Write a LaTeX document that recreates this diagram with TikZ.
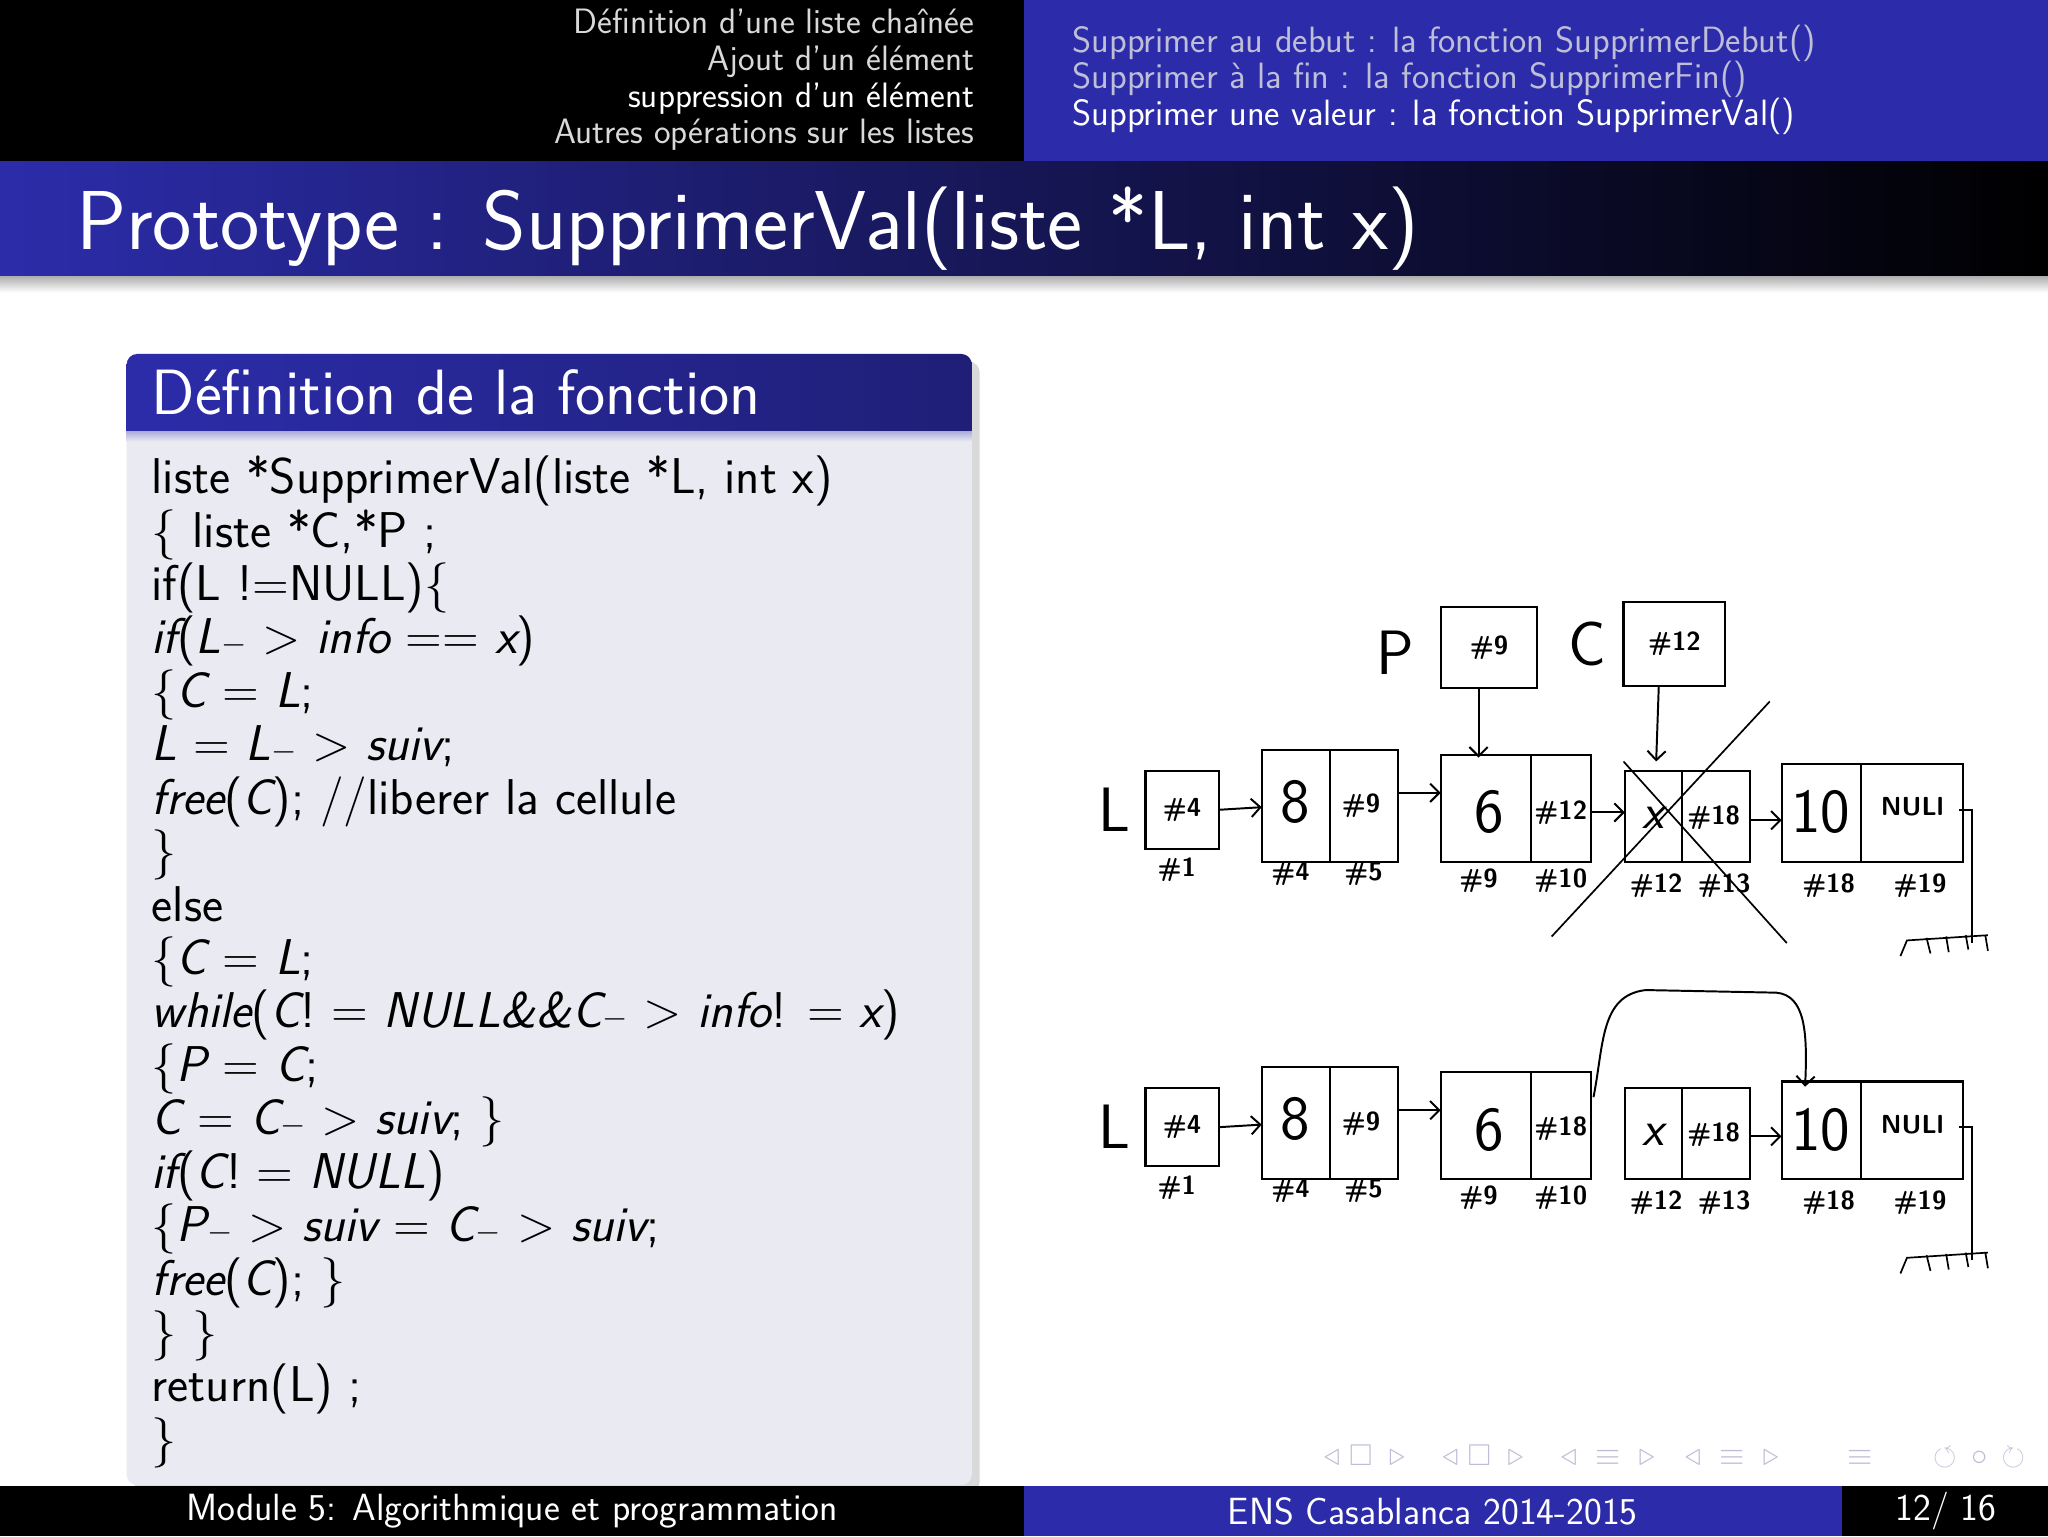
\documentclass[tikz,border=0pt]{standalone}
\usepackage{amssymb}
\usepackage{fontspec}
\usetikzlibrary{arrows.meta}
\definecolor{bblue}{RGB}{44,44,170}
\definecolor{bodyc}{RGB}{234,234,243}
\definecolor{navg}{RGB}{190,190,215}
\tikzset{
 cell/.style={draw,line width=1.6pt},
 hl/.style={font=\sffamily\bfseries\fontsize{20}{20}\selectfont},
 hd/.style={font=\sffamily\fontsize{48}{48}\selectfont},
 arr/.style={line width=1.5pt,-{Straight Barb[length=7pt]}},
 codel/.style={anchor=base west,font=\sffamily\fontsize{38.5}{38.5}\selectfont,inner sep=0},
 navt/.style={text=white!70!gray,anchor=base east,font=\sffamily\fontsize{27}{27}\selectfont,inner sep=0},
 navr/.style={anchor=base west,font=\sffamily\fontsize{28}{28}\selectfont,inner sep=0},
 foot/.style={text=white,font=\sffamily\fontsize{29}{29}\selectfont},
}
\begin{document}
\begin{tikzpicture}[x=1pt,y=-1pt]
\useasboundingbox (0,0) rectangle (1568,1176);
\fill[white] (0,0) rectangle (1568,1176);
% header
\fill[black] (0,0) rectangle (784,124);
\fill[bblue] (784,0) rectangle (1568,124);
\node[navt] (n1) at (746,26) {Définition d'une liste chaînée};
\node[navt] (n2) at (746,54) {Ajout d'un élément};
\node[navt,text=white] (n3) at (746,82) {suppression d'un élément};
\node[navt] (n4) at (746,110) {Autres opérations sur les listes};
\node[navr,text=navg] (m1) at (821,40) {Supprimer au debut : la fonction SupprimerDebut()};
\node[navr,text=navg] (m2) at (821,68) {Supprimer à la fin : la fonction SupprimerFin()};
\node[navr,text=white] (m3) at (821,96) {Supprimer une valeur : la fonction SupprimerVal()};
% title
\shade[left color=bblue,right color=black] (0,124) rectangle (1568,212);
\shade[top color=black!30,bottom color=white] (0,212) rectangle (1568,224);
\node[anchor=base west,text=white,inner sep=0,font=\sffamily\fontsize{64}{64}\selectfont] (title) at (58,191) {Prototype : SupprimerVal(liste *L, int x)};
% block
\fill[black!15,rounded corners=8pt] (103,277) rectangle (750,1143);
\fill[bodyc,rounded corners=8pt] (97,271) rectangle (744,1137);
\begin{scope}
\clip[rounded corners=8pt] (97,271) rectangle (744,400);
\shade[left color=bblue,right color=bblue!70!black] (97,271) rectangle (744,330);
\end{scope}
\shade[top color=bblue!40,bottom color=bodyc] (97,330) rectangle (744,338);
\node[anchor=base west,text=white,inner sep=0,font=\sffamily\fontsize{49}{49}\selectfont] (bh) at (116,317) {Définition de la fonction};
\def\cl#1#2{\node[codel] at (116,{378+#1*40.9}) {#2};}
\cl{0}{liste *SupprimerVal(liste *L, int x)}
\cl{1}{\{ liste *C,*P ;}
\cl{2}{if(L !=NULL)\{}
\cl{3}{\itshape if\upshape(\itshape L\upshape{}$-$ > \itshape info \upshape== \itshape x\upshape)}
\cl{4}{\{\itshape C \upshape= \itshape L\upshape;}
\cl{5}{\itshape L \upshape= \itshape L\upshape$-$ > \itshape suiv\upshape;}
\cl{6}{\itshape free\upshape(\itshape C\upshape); //liberer la cellule}
\cl{7}{\}}
\cl{8}{else}
\cl{9}{\{\itshape C \upshape= \itshape L\upshape;}
\cl{10}{\itshape while\upshape(\itshape C\upshape! = \itshape NULL\&\&C\upshape$-$ > \itshape info\upshape! = \itshape x\upshape)}
\cl{11}{\{\itshape P \upshape= \itshape C\upshape;}
\cl{12}{\itshape C \upshape= \itshape C\upshape$-$ > \itshape suiv\upshape; \}}
\cl{13}{\itshape if\upshape(\itshape C\upshape! = \itshape NULL\upshape)}
\cl{14}{\{\itshape P\upshape$-$ > \itshape suiv \upshape= \itshape C\upshape$-$ > \itshape suiv\upshape;}
\cl{15}{\itshape free\upshape(\itshape C\upshape); \}}
\cl{16}{\} \}}
\cl{17}{return(L) ;}
\cl{18}{\}}
% diagram row 1
\node[hd] (P) at (1068,500) {P};
\draw[cell] (1103,465) rectangle (1177,527) node[midway,hl] (pb) {\#9};
\node[hd] (C) at (1215,493) {C};
\draw[cell] (1243,461) rectangle (1321,525) node[midway,hl] (cb) {\#12};
\coordinate (pt) at (1132,580); \coordinate (ct) at (1268,583);
\draw[arr] (1132,527) -- (pt);
\draw[arr] (1270,525) -- (ct);
\foreach \dy/\r in {0/a,243/b}{
 \begin{scope}[yshift=-\dy]
 \node[hd] (L\r) at (853,620) {L};
 \draw[cell] (877,590) rectangle (933,650) node[midway,hl] (h\r) {\#4};
 \node[hl] at (901,666) {\#1};
 \draw[cell] (966,574) rectangle (1070,660); \draw[cell] (1018,574) -- (1018,660);
 \node[hd] (e8\r) at (992,614) {8}; \node[hl] at (1042,617) {\#9};
 \node[hl] at (988,669) {\#4}; \node[hl] at (1044,669) {\#5};
 \draw[cell] (1103,578) rectangle (1218,660); \draw[cell] (1172,578) -- (1172,660);
 \node[hd] (e6\r) at (1140,622) {6};
 \node[hl] at (1132,674) {\#9}; \node[hl] at (1195,674) {\#10};
 \draw[cell] (1244,590) rectangle (1340,660); \draw[cell] (1288,590) -- (1288,660);
 \node[hd,font=\itshape\sffamily\fontsize{38}{38}\selectfont] (ex\r) at (1266,626) {x}; \node[hl] at (1312,626) {\#18};
 \node[hl] at (1268,678) {\#12}; \node[hl] at (1320,678) {\#13};
 \draw[cell] (1364,585) rectangle (1503,660); \draw[cell] (1425,585) -- (1425,660);
 \node[hd] (e10\r) at (1394,622) {10}; \node[hl] at (1464,618) {NULl};
 \node[hl] at (1400,678) {\#18}; \node[hl] at (1470,678) {\#19};
 \draw[line width=1.5pt] (1500,620) -- (1510,620) -- (1510,722);
 \draw[line width=1.3pt] (1455,732) -- (1460,720) -- (1522,716) (1475,718)--(1478,730) (1490,717)--(1492,729) (1505,716)--(1507,727) (1520,716)--(1522,728);
 \draw[arr] (933,620) -- (966,618);
 \draw[arr] (1070,607) -- (1103,607);
 \end{scope}}
\node[hl] at (1195,622) {\#12};
\node[hl] at (1195,864) {\#18};
\draw[arr] (1218,622) -- (1244,622);
\draw[arr] (1340,628) -- (1364,628);
\draw[arr] (1340,870) -- (1364,870);
\draw[line width=1.3pt] (1188,717) -- (1355,537);
\draw[line width=1.3pt] (1243,583) -- (1368,722);
\draw[arr] (1220,840) .. controls (1228,800) and (1225,762) .. (1260,758) -- (1360,760) .. controls (1382,762) and (1384,790) .. (1382,832);
% footer
\fill[black] (0,1138) rectangle (784,1176);
\fill[bblue] (784,1138) rectangle (1410,1176);
\fill[black] (1410,1138) rectangle (1568,1176);
\node[foot] (f1) at (392,1157) {Module 5: Algorithmique et programmation};
\node[foot] (f2) at (1097,1157) {ENS Casablanca 2014-2015};
\node[foot] (f3) at (1490,1157) {12/ 16};
\node[text=navg,font=\sffamily\fontsize{23}{23}\selectfont] (nav) at (1282,1115) {$\triangleleft\ \square\ \triangleright\quad\triangleleft\ \square\ \triangleright\quad\triangleleft\ \equiv\ \triangleright\quad\triangleleft\ \equiv\ \triangleright\qquad\equiv\qquad\circlearrowleft\,\circ\,\circlearrowright$};
\end{tikzpicture}
\end{document}
